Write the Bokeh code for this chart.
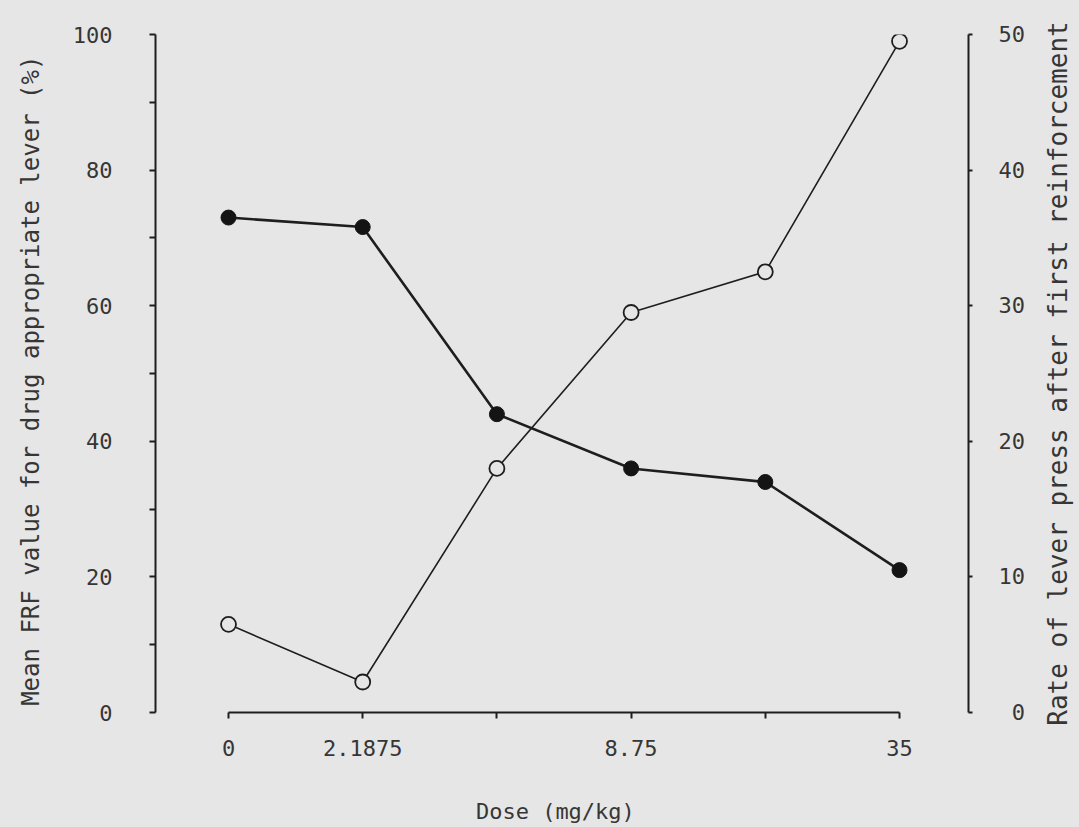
from bokeh.plotting import figure
from bokeh.layouts import row
from bokeh.models import Range1d, LinearAxis, FixedTicker, Title
from bokeh.embed import file_html
from bokeh.resources import INLINE

# Dose levels (mg/kg), plotted at equal spacing
doses = ["0", "2.1875", "4.375", "8.75", "17.5", "35"]
dose_labels = ["0", "2.1875", "", "8.75", "", "35"]

# Mean FRF value for drug appropriate lever (%) -- open circles, left axis
frf_pct = [13, 4.5, 36, 59, 65, 99]
# Rate of lever press after first reinforcement -- filled circles, right axis
press_rate = [36.5, 35.8, 22, 18, 17, 10.5]

left_ticks = [0, 10, 20, 30, 40, 50, 60, 70, 80, 90, 100]
right_ticks = [0, 10, 20, 30, 40, 50]

BG = "#e6e6e6"
INK = "#1e1e1e"
TXT = "#363636"
FONT = "DejaVu Sans Mono"
NBSP = "\u00a0"

xs = list(range(len(doses)))

p = figure(width=1040, height=827,
           x_range=Range1d(-0.544, 5.514), y_range=Range1d(0, 100),
           output_backend="svg", toolbar_location=None,
           min_border_left=155, min_border_right=72,
           min_border_top=34, min_border_bottom=115)
p.background_fill_color = BG
p.border_fill_color = BG
p.outline_line_color = None
p.xgrid.grid_line_color = None
p.ygrid.grid_line_color = None
p.extra_y_ranges = {"rate": Range1d(0, 50)}

right_axis = LinearAxis(y_range_name="rate")
p.add_layout(right_axis, "right")


def style_axis(ax, size):
    ax.axis_line_color = INK
    ax.axis_line_width = 2
    ax.major_tick_line_color = INK
    ax.major_tick_line_width = 2
    ax.major_tick_in = 0
    ax.major_tick_out = 6
    ax.minor_tick_line_color = None
    ax.major_label_text_font = FONT
    ax.major_label_text_font_size = size
    ax.major_label_text_color = TXT
    ax.axis_label_text_font = FONT
    ax.axis_label_text_font_style = "normal"
    ax.axis_label_text_color = TXT


# Bottom dose axis
xa = p.xaxis[0]
style_axis(xa, "22px")
xa.ticker = FixedTicker(ticks=xs)
xa.major_label_overrides = {i: lab for i, lab in zip(xs, dose_labels)}
xa.bounds = (xs[0], xs[-1])
xa.major_label_standoff = 21
xa.axis_label = "Dose  (mg/kg)"
xa.axis_label_text_font_size = "22px"
xa.axis_label_standoff = 40

# Left FRF axis
ya = p.yaxis[0]
style_axis(ya, "22px")
ya.ticker = FixedTicker(ticks=left_ticks)
ya.major_label_overrides = {t: (str(t) if t % 20 == 0 else "") for t in left_ticks}
ya.bounds = (0, 100)
ya.major_label_standoff = 37
ya.axis_label = "Mean FRF value for drug appropriate lever  (%)"
ya.axis_label_text_font_size = "24px"
ya.axis_label_standoff = 25

# Right rate axis, labels padded so they line up on the right
style_axis(right_axis, "22px")
right_axis.ticker = FixedTicker(ticks=right_ticks)
right_axis.major_label_overrides = {t: str(t).rjust(2, NBSP) for t in right_ticks}
right_axis.bounds = (0, 50)
right_axis.major_tick_out = 4
right_axis.major_label_standoff = 26

# FRF series: thin line with open circles
p.line(xs, frf_pct, line_color=INK, line_width=1.6)
p.scatter(xs, frf_pct, size=15, fill_color=BG, line_color=INK, line_width=1.8)

# Press-rate series: heavier line with filled circles
p.line(xs, press_rate, y_range_name="rate", line_color=INK, line_width=2.6)
p.scatter(xs, press_rate, y_range_name="rate", size=15,
          fill_color="#141414", line_color="#141414")

# Narrow strip carrying the right-hand title, reading bottom to top
strip = figure(width=39, height=827, x_range=Range1d(0, 1), y_range=Range1d(0, 1),
               output_backend="svg", toolbar_location=None,
               min_border_left=0, min_border_right=0,
               min_border_top=0, min_border_bottom=96)
strip.background_fill_color = BG
strip.border_fill_color = BG
strip.outline_line_color = None
strip.axis.visible = False
strip.grid.grid_line_color = None
strip.add_layout(Title(text="Rate of lever press after first reinforcement",
                       align="center", standoff=0,
                       text_font=FONT, text_font_size="26px",
                       text_font_style="normal", text_color=TXT), "left")

page = row(p, strip, spacing=0)
page.styles = {"background-color": BG}

open("out.html", "w").write(file_html(page, INLINE))
